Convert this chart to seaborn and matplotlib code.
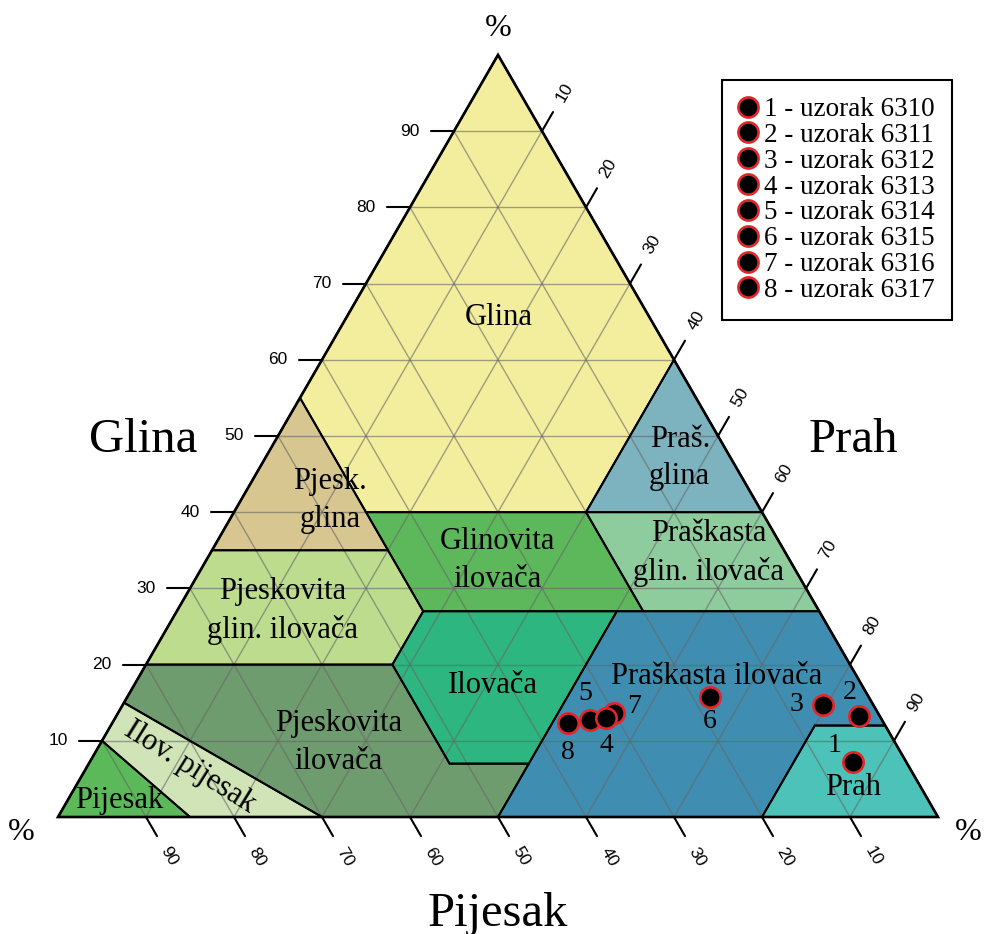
import numpy as np
import pandas as pd
import matplotlib.pyplot as plt
import seaborn as sns
from matplotlib.lines import Line2D
from matplotlib.patches import Polygon

# uzorci - granulometrijski sastav (%)
sample_ids = ['1', '2', '3', '4', '5', '6', '7', '8']
sample_names = ['uzorak 6310', 'uzorak 6311', 'uzorak 6312', 'uzorak 6313',
                'uzorak 6314', 'uzorak 6315', 'uzorak 6316', 'uzorak 6317']
sand = [6.1, 2.4, 5.7, 31.2, 33.2, 18.0, 30.0, 35.9]
silt = [86.7, 84.4, 79.6, 55.8, 54.1, 66.2, 56.4, 51.8]
clay = [7.2, 13.2, 14.7, 13.0, 12.7, 15.8, 13.6, 12.3]

# teksturne klase (USDA), vrhovi kao (pijesak, prah, glina)
class_names = ['Glina', 'Praš.\nglina', 'Pjesk.\nglina', 'Glinovita\nilovača',
               'Praškasta\nglin. ilovača', 'Pjeskovita\nglin. ilovača', 'Ilovača',
               'Praškasta ilovača', 'Prah', 'Pjeskovita\nilovača', 'Ilov. pijesak',
               'Pijesak']
class_polys = [
    [(45, 0, 55), (0, 0, 100), (0, 40, 60), (20, 40, 40), (45, 15, 40)],
    [(0, 40, 60), (0, 60, 40), (20, 40, 40)],
    [(65, 0, 35), (45, 0, 55), (45, 20, 35)],
    [(45, 15, 40), (20, 40, 40), (20, 53, 27), (45, 28, 27)],
    [(20, 40, 40), (0, 60, 40), (0, 73, 27), (20, 53, 27)],
    [(80, 0, 20), (65, 0, 35), (45, 20, 35), (45, 28, 27), (52, 28, 20)],
    [(43, 50, 7), (52, 41, 7), (52, 28, 20), (45, 28, 27), (23, 50, 27)],
    [(50, 50, 0), (20, 80, 0), (8, 80, 12), (0, 88, 12), (0, 73, 27), (23, 50, 27), (43, 50, 7)],
    [(20, 80, 0), (0, 100, 0), (0, 88, 12), (8, 80, 12)],
    [(70, 30, 0), (50, 50, 0), (43, 50, 7), (52, 41, 7), (52, 28, 20), (80, 0, 20), (85, 0, 15)],
    [(85, 0, 15), (70, 30, 0), (85, 15, 0), (90, 0, 10)],
    [(100, 0, 0), (90, 0, 10), (85, 15, 0)],
]
class_colors = ['#f2ee9d', '#7db2bf', '#d7c68f', '#5db85c', '#8ecc9e', '#bddc8e',
                '#2db680', '#3f8db0', '#4cc2b8', '#6f9c6e', '#d0e4b7', '#5cb95a']

# polozaj naziva klasa (prah, glina) i rotacija
label_pos = [(17.3, 65.5), (47.1, 47.1), (10.2, 41.5), (33.1, 33.7), (56.6, 34.6),
             (12.0, 27.0), (40.8, 17.2), (65.7, 18.4), (88.4, 3.9), (27.0, 9.8),
             (11.7, 6.6), (5.9, 2.2)]
label_rot = [0, 0, 0, 0, 0, 0, 0, 0, 0, 0, -32, 0]

# pomak oznaka uzoraka (pt)
id_offsets = [(-13, 12), (-6.5, 17), (-19, 0), (0, -19.5), (-3.6, 19.5), (0, -18), (14.4, 5), (0, -21)]

H = np.sqrt(3) / 2


def to_xy(sa, si, cl):
    return si + cl / 2, cl * H


sns.set_theme(style="white")
plt.rcParams['font.family'] = ['Liberation Serif', 'DejaVu Serif']
plt.rcParams['text.color'] = 'black'

fig = plt.figure(figsize=(9.85, 9.34), dpi=100)
ax = fig.add_axes([0, 0, 1, 1])
S = 8.8
ax.set_xlim(-58 / S, (985 - 58) / S)
ax.set_ylim(-(934 - 817) / S, 817 / S)
ax.axis('off')

# klase
for verts, col in zip(class_polys, class_colors):
    pts = [to_xy(*v) for v in verts]
    ax.add_patch(Polygon(pts, closed=True, facecolor=col, edgecolor='none', zorder=1))

# mreza
for v in range(10, 100, 10):
    for a, b in [((100 - v, 0, v), (0, 100 - v, v)),
                 ((v, 0, 100 - v), (v, 100 - v, 0)),
                 ((0, v, 100 - v), (100 - v, v, 0))]:
        p, q = to_xy(*a), to_xy(*b)
        ax.plot([p[0], q[0]], [p[1], q[1]], color='#666666', lw=1, alpha=0.6, zorder=2)

for verts in class_polys:
    pts = [to_xy(*v) for v in verts]
    ax.add_patch(Polygon(pts, closed=True, facecolor='none', edgecolor='black', lw=1.4, zorder=3))

tri = [to_xy(100, 0, 0), to_xy(0, 100, 0), to_xy(0, 0, 100)]
ax.add_patch(Polygon(tri, closed=True, facecolor='none', edgecolor='black', lw=1.9, zorder=3))

# skale
tick_font = dict(family='Liberation Sans', fontsize=12.5, color='black')
for v in range(10, 100, 10):
    x, y = to_xy(100 - v, 0, v)
    ax.plot([x - 2.6, x], [y, y], color='black', lw=1.5, zorder=3)
    ax.text(x - 5.0, y, str(v), ha='center', va='center', **tick_font)

    x, y = to_xy(v, 100 - v, 0)
    d = np.array([0.5, -H])
    ax.plot([x, x + 2.5 * d[0]], [y, y + 2.5 * d[1]], color='black', lw=1.5, zorder=3)
    ax.text(x + 5.2 * d[0], y + 5.2 * d[1], str(v), ha='center', va='center',
            rotation=-60, **tick_font)

    x, y = to_xy(0, v, 100 - v)
    d = np.array([0.5, H])
    ax.plot([x, x + 2.5 * d[0]], [y, y + 2.5 * d[1]], color='black', lw=1.5, zorder=3)
    ax.text(x + 5.1 * d[0], y + 5.1 * d[1], str(v), ha='center', va='center',
            rotation=60, **tick_font)

# nazivi klasa
for name, (si, cl), rot in zip(class_names, label_pos, label_rot):
    x, y = to_xy(100 - si - cl, si, cl)
    ax.text(x, y, name, ha='center', va='center', fontsize=22, rotation=rot,
            linespacing=1.4, zorder=4)

# uzorci
df = pd.DataFrame({'id': sample_ids, 'naziv': sample_names,
                   'pijesak': sand, 'prah': silt, 'glina': clay})
df['x'] = df['prah'] + df['glina'] / 2
df['y'] = df['glina'] * H
red = '#e3262b'
sns.scatterplot(data=df.iloc[::-1], x='x', y='y', s=215, color='black', edgecolor=red,
                linewidth=1.9, zorder=5, legend=False, ax=ax)
for (_, r), off in zip(df.iterrows(), id_offsets):
    ax.annotate(r['id'], (r['x'], r['y']), xytext=off, textcoords='offset points',
                ha='center', va='center', fontsize=20, zorder=6)

# osi
ax.text(0.145, 0.516, 'Glina', transform=ax.transAxes, ha='center', va='baseline', fontsize=35)
ax.text(0.866, 0.516, 'Prah', transform=ax.transAxes, ha='center', va='baseline', fontsize=35)
ax.text(0.5056, 0.009, 'Pijesak', transform=ax.transAxes, ha='center', va='baseline', fontsize=35)
for px, py in [(0.5056, 0.97), (0.022, 0.109), (0.983, 0.109)]:
    ax.text(px, py, '%', transform=ax.transAxes, ha='center', va='center', fontsize=23)

handles = [Line2D([], [], marker='o', ls='', markerfacecolor='black', markeredgecolor=red,
                  markersize=14.5, markeredgewidth=1.9) for _ in sample_ids]
labels = [f'{i} - {n}' for i, n in zip(sample_ids, sample_names)]
leg = ax.legend(handles, labels, loc='upper left', bbox_to_anchor=(0.7325, 0.914),
                prop=dict(family='Liberation Serif', size=19.5), frameon=True, fancybox=False,
                framealpha=1, edgecolor='black', handlelength=0.75, handletextpad=0.2,
                labelspacing=0.03, borderpad=0.62, borderaxespad=0)
leg.get_frame().set_linewidth(1.5)

plt.savefig('out.png', dpi=100)
